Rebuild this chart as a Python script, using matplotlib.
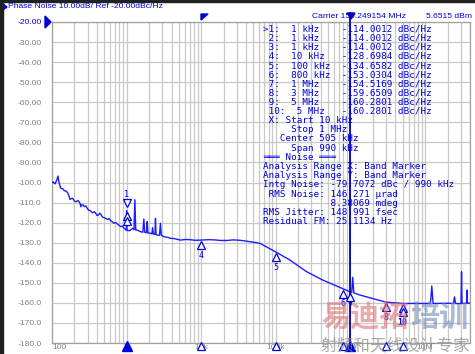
import matplotlib
matplotlib.use("Agg")
import matplotlib.pyplot as plt
from matplotlib.patches import Rectangle, Polygon
from matplotlib.transforms import offset_copy
import numpy as np

# ---------------- data ----------------
freq_hz = [100, 104, 110, 116, 120, 125, 131, 140, 146, 155, 162, 168, 174, 182, 189, 200,
           209, 222, 231, 238, 244, 252, 261, 272, 284, 296, 308, 330, 349, 368, 386, 400,
           420, 436, 450, 470, 483, 520, 553, 585, 612, 645, 677, 715, 752, 790, 832, 875,
           920, 960, 985, 995, 1000, 1005, 1015, 1096, 1213, 1255, 1290, 1325, 1389, 1450,
           1537, 1650, 1701, 1750, 1792, 1850, 1888, 1930, 2089, 2180, 2230, 2280, 2400,
           2436, 2480, 2567, 2760, 2841, 2920, 2992, 3144, 3500, 3862, 4400, 5248, 6200,
           7000, 8300, 10000, 12500, 15000, 18500, 22000, 27000, 33000, 45000, 61200, 100000,
           153700, 256500, 423400, 800000, 1000000, 1040000, 1072000, 1110000, 1338000,
           1966000, 3000000, 5000000, 8300000, 11800000, 12300000, 12800000, 20000000,
           24000000, 24800000, 25600000, 30000000, 30300000, 30800000, 31300000, 36000000,
           36400000, 36800000, 40000000]
noise_dbc = [-100.1, -99.8, -100.7, -98.8, -96.8, -100.4, -102.9, -103.2, -104.1, -104.3,
             -105.1, -106.5, -108.4, -108.0, -107.9, -109.3, -109.6, -109.0, -109.6, -110.5,
             -112.1, -111.0, -111.2, -112.0, -111.7, -112.8, -113.7, -114.2, -115.1, -114.6,
             -115.4, -116.4, -116.2, -115.3, -115.7, -117.0, -117.4, -117.8, -118.4, -118.0,
             -119.0, -119.6, -120.3, -120.0, -120.7, -121.3, -122.0, -121.7, -122.8, -123.2,
             -123.7, -123.7, -114.0, -123.7, -123.9, -124.0, -122.8, -123.5, -108.6, -123.7,
             -123.7, -124.1, -124.5, -124.8, -118.2, -124.8, -125.0, -125.0, -119.5, -125.2,
             -125.3, -125.6, -122.5, -125.7, -125.8, -117.9, -126.0, -126.2, -126.3, -120.3,
             -126.4, -126.5, -127.0, -127.3, -127.8, -128.0, -128.7, -128.4, -128.5, -128.8,
             -128.7, -128.5, -128.6, -128.9, -128.9, -128.6, -128.8, -129.5, -130.3, -134.66,
             -138.6, -144.4, -148.6, -153.03, -154.52, -154.8, -147.3, -155.0, -156.1, -157.8,
             -159.65, -160.28, -160.3, -160.3, -151.6, -160.3, -160.2, -160.3, -157.0, -160.3,
             -160.4, -160.3, -144.5, -160.3, -160.2, -153.6, -160.3, -160.0]

marker_ids = ['1', '2', '3', '4', '5', '6', '7', '8', '9', '10']
marker_freqs = [1e3, 1e3, 1e3, 1e4, 1e5, 8e5, 1e6, 3e6, 5e6, 5e6]
marker_freq_labels = ['1 kHz', '1 kHz', '1 kHz', '10 kHz', '100 kHz', '800 kHz',
                      '1 MHz', '3 MHz', '5 MHz', '5 MHz']
marker_vals = [-114.0012, -114.0012, -114.0012, -128.6984, -134.6582, -153.0304,
               -154.5169, -159.6509, -160.2801, -160.2801]

y_ticks = [-20, -30, -40, -50, -60, -70, -80, -90, -100, -110, -120, -130, -140,
           -150, -160, -170, -180]
y_tick_labels = ['-20.00', '-30.00', '-40.00', '-50.00', '-60.00', '-70.00', '-80.00',
                 '-90.00', '-100.0', '-110.0', '-120.0', '-130.0', '-140.0', '-150.0',
                 '-160.0', '-170.0', '-180.0']
x_ticks = [1e2, 1e3, 1e4, 1e5, 1e6, 1e7]
x_tick_labels = ['100', '1k', '10k', '100k', '1M', '10M']

title_text = 'Phase Noise 10.00dB/ Ref -20.00dBc/Hz'
carrier_text = 'Carrier 156.249154 MHz'
power_text = '5.6515 dBm'
extra_lines = [' X: Start 10 kHz',
               '     Stop 1 MHz',
               '   Center 505 kHz',
               '     Span 990 kHz',
               '═══ Noise ═══',
               'Analysis Range X: Band Marker',
               'Analysis Range Y: Band Marker',
               'Intg Noise: -79.7072 dBc / 990 kHz',
               ' RMS Noise: 146.271 µrad',
               '            8.38069 mdeg',
               'RMS Jitter: 148.991 fsec',
               'Residual FM: 25.1134 Hz']
wm_red = '易迪拓'
wm_blue = '培训'
wm_grey = '射频和天线设计专家'

# ---------------- styles ----------------
W, H = 475, 354
BLUE_T = '#0000dd'
BLUE_L = '#1c1cff'
GRID = '#c8c8c8'
GREY = '#808080'
SANS = 'Liberation Sans'
MONO = 'DejaVu Sans Mono'

fig = plt.figure(figsize=(W / 100, H / 100), dpi=100)
fig.patch.set_facecolor('white')

L, R, T, B = 52, 470, 22, 343
ax = fig.add_axes([L / W, 1 - B / H, (R - L) / W, (B - T) / H])
ax.set_xscale('log')
ax.set_xlim(100, 40e6)
ax.set_ylim(-180, -20)

def fx(px):
    return px / W

def fy(py):
    return 1 - py / H

# grid
ax.set_xticks(x_ticks)
ax.set_xticklabels(x_tick_labels)
ax.xaxis.set_minor_locator(matplotlib.ticker.LogLocator(base=10, subs=np.arange(2, 10)))
ax.xaxis.set_minor_formatter(matplotlib.ticker.NullFormatter())
ax.set_yticks(y_ticks)
ax.set_yticklabels(y_tick_labels)
ax.grid(True, which='both', axis='x', color=GRID, lw=0.9)
ax.grid(True, which='major', axis='y', color=GRID, lw=0.9)
ax.set_axisbelow(True)
ax.tick_params(which='both', length=0)
ax.tick_params(axis='y', pad=7.5, labelsize=6.1, labelcolor=GREY)
ax.tick_params(axis='x', pad=1.0, labelsize=6.1, labelcolor=GREY)
for lab in ax.get_yticklabels() + ax.get_xticklabels():
    lab.set_fontfamily(SANS)
ax.get_yticklabels()[0].set_color(BLUE_T)
xl = ax.get_xticklabels()
xl[0].set_horizontalalignment('left')
for s in ax.spines.values():
    s.set_color('#a0a0a0')
    s.set_linewidth(0.9)

# trace
ax.plot(freq_hz, noise_dbc, color=BLUE_L, lw=1.0, zorder=3)

# active marker line at marker 7
ax.plot([marker_freqs[6]] * 2, [0, 1 + 9 / (B - T)], transform=ax.get_xaxis_transform(),
        color='#0000b0', lw=1.3, clip_on=False, zorder=5)

# trace markers
for i, (mid, f, v) in enumerate(zip(marker_ids, marker_freqs, marker_vals)):
    if i == 0:
        tr = offset_copy(ax.transData, fig=fig, x=0, y=8 * 0.72, units='points')
        ax.plot([f], [v], marker='v', ms=5.5, mfc='white', mec=BLUE_T, mew=0.9,
                transform=tr, zorder=6)
        tr2 = offset_copy(ax.transData, fig=fig, x=0, y=16 * 0.72, units='points')
        ax.text(f, v, mid, transform=tr2, ha='center', va='center', color=BLUE_T,
                fontsize=6, family=MONO, zorder=6)
        continue
    if mid in ('2', '3'):
        dy = 5 if mid == '2' else 10
        tr = offset_copy(ax.transData, fig=fig, x=0, y=-dy * 0.72, units='points')
        ax.plot([f], [v], marker='^', ms=5.5, mfc='white', mec=BLUE_T, mew=0.9,
                transform=tr, zorder=6)
        continue
    dy = 5 if mid != '10' else 9
    tr = offset_copy(ax.transData, fig=fig, x=0, y=-dy * 0.72, units='points')
    ax.plot([f], [v], marker='^', ms=5.5, mfc='white', mec=BLUE_T, mew=0.9,
            transform=tr, zorder=6)
    if mid == '9':
        continue
    tr2 = offset_copy(ax.transData, fig=fig, x=0, y=-(dy + 10) * 0.72, units='points')
    ax.text(f, v, mid, transform=tr2, ha='center', va='center', color=BLUE_T,
            fontsize=6, family=MONO, zorder=6,
            fontweight='bold' if mid == '10' else 'normal')

# bottom axis marker indicators
xt = ax.get_xaxis_transform()
yb = -3 / (B - T)
for i, f in enumerate(marker_freqs):
    if i in (0, 6):
        ax.plot([f], [yb], marker='^', ms=7, color=BLUE_T, transform=xt, clip_on=False, zorder=7)
    elif i in (3, 4, 5, 7, 8):
        ax.plot([f], [yb], marker='^', ms=5.5, mfc='white', mec=BLUE_T, mew=0.9,
                transform=xt, clip_on=False, zorder=7)

# header texts
fig.text(fx(8), fy(7), title_text, color=BLUE_T, fontsize=6.1, family=SANS,
         ha='left', va='center')
fig.patches.append(Polygon([[fx(3), fy(4)], [fx(3), fy(10)], [fx(7), fy(7)]],
                           closed=True, color=BLUE_T, transform=fig.transFigure))
fig.text(fx(312), fy(17), carrier_text, color=BLUE_T, fontsize=6.1, family=SANS,
         ha='left', va='center')
fig.text(fx(472), fy(17), power_text, color=BLUE_T, fontsize=6.1, family=SANS,
         ha='right', va='center')
# reference level arrow
fig.patches.append(Polygon([[fx(45), fy(16)], [fx(45), fy(28)], [fx(51), fy(22)]],
                           closed=True, color=BLUE_T, transform=fig.transFigure))
# small flag marker
fig.patches.append(Polygon([[fx(201), fy(14)], [fx(208), fy(14)], [fx(201), fy(20)]],
                           closed=True, color=BLUE_T, transform=fig.transFigure))
# top of active marker line
fig.patches.append(Polygon([[fx(347), fy(13)], [fx(355), fy(13)], [fx(351), fy(19)]],
                           closed=True, color='#0000b0', transform=fig.transFigure))

# marker table
lines = []
for i, (mid, fl, v) in enumerate(zip(marker_ids, marker_freq_labels, marker_vals)):
    s = ('>' if i == 0 else ' ') + mid + ':  ' + fl
    s = s.ljust(14) + f'{v:.4f} dBc/Hz'
    lines.append(s)
lines += extra_lines
y0, dy = 28.8, 9.18
for k, s in enumerate(lines):
    fig.text(fx(263), fy(y0 + k * dy), s, color=BLUE_T, fontsize=6.65, family=MONO,
             ha='left', va='center', zorder=8)

# watermark
CJK = ['Noto Sans CJK SC', 'DejaVu Sans']
fig.text(fx(321), fy(317), wm_red, color=(0.88, 0.45, 0.45), alpha=0.6, fontsize=21,
         family=CJK, fontweight='bold', ha='left', va='center', zorder=9)
fig.text(fx(410), fy(317), wm_blue, color=(0.45, 0.55, 0.72), alpha=0.6, fontsize=21,
         family=CJK, fontweight='bold', ha='left', va='center', zorder=9)
fig.text(fx(321), fy(346), wm_grey, color=(0.55, 0.55, 0.55), alpha=0.75, fontsize=12,
         family=CJK, ha='left', va='center', zorder=9)

# frame decorations
fig.patches.append(Rectangle((0, 0), fx(3), 1, color='#202020', transform=fig.transFigure))
fig.patches.append(Rectangle((0, fy(2)), 1, 2 / H, color='#202020', transform=fig.transFigure))

fig.savefig('out.png', dpi=100, facecolor='white')
